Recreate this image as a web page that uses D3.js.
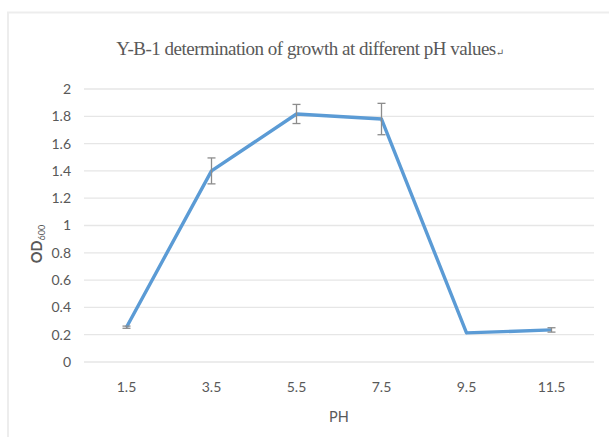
<!DOCTYPE html>
<meta charset="utf-8">
<style>
  body { margin: 0; background: #fff; }
  text { font-family: Lato, "Open Sans", sans-serif; }
</style>
<body></body>
<script src="https://cdn.jsdelivr.net/npm/d3@7"></script>
<script>
  const width = 609
  const height = 437

  // pH categories, mean OD600 and error (half bar)
  const phLabels = ["1.5", "3.5", "5.5", "7.5", "9.5", "11.5"]
  const odValues = [0.255, 1.40, 1.817, 1.78, 0.213, 0.235]
  const odErrors = [0.008, 0.095, 0.07, 0.115, 0.0, 0.016]
  const yTicks = [0, 0.2, 0.4, 0.6, 0.8, 1, 1.2, 1.4, 1.6, 1.8, 2]

  const margin = { left: 84, right: 15, top: 89, bottom: 75 }

  const svg = d3.select("body").append("svg")
    .attr("width", width)
    .attr("height", height)

  // outer chart frame (only top/left visible)
  svg.append("path")
    .attr("d", `M8,${height} V12.5 H${width}`)
    .attr("fill", "none")
    .attr("stroke", "#ededed")
    .attr("stroke-width", 2)

  const x = d3.scaleBand()
    .domain(phLabels)
    .range([margin.left, width - margin.right])

  const y = d3.scaleLinear()
    .domain([0, 2])
    .range([height - margin.bottom, margin.top])

  // gridlines
  svg.append("g")
    .selectAll("line")
    .data(yTicks)
    .join("line")
    .attr("x1", margin.left)
    .attr("x2", width - margin.right)
    .attr("y1", d => y(d))
    .attr("y2", d => y(d))
    .attr("stroke", "#e6e6e6")
    .attr("stroke-width", 1.3)

  // y tick labels
  svg.append("g")
    .selectAll("text")
    .data(yTicks)
    .join("text")
    .attr("x", 71)
    .attr("y", d => y(d))
    .attr("dy", "0.35em")
    .attr("text-anchor", "end")
    .attr("fill", "#595959")
    .attr("font-size", 14)
    .text(d => d3.format("")(+d.toFixed(1)))

  // x tick labels
  svg.append("g")
    .selectAll("text")
    .data(phLabels)
    .join("text")
    .attr("x", d => x(d) + x.bandwidth() / 2)
    .attr("y", 387)
    .attr("dy", "0.35em")
    .attr("text-anchor", "middle")
    .attr("fill", "#595959")
    .attr("font-size", 14)
    .text(d => d)

  // axis titles
  svg.append("text")
    .attr("x", (margin.left + width - margin.right) / 2)
    .attr("y", 417)
    .attr("dy", "0.35em")
    .attr("text-anchor", "middle")
    .attr("fill", "#595959")
    .attr("font-size", 14.5)
    .text("PH")

  const yTitle = svg.append("text")
    .attr("transform", "translate(37,244) rotate(-90)")
    .attr("dy", "0.35em")
    .attr("text-anchor", "middle")
    .attr("fill", "#595959")
    .attr("font-size", 14.5)
    .attr("font-weight", "bold")
  yTitle.append("tspan").text("OD")
  yTitle.append("tspan")
    .attr("font-size", 9)
    .attr("font-weight", "normal")
    .attr("dy", "0.3em")
    .text("600")

  // chart title
  svg.append("text")
    .attr("x", 310)
    .attr("y", 48)
    .attr("dy", "0.35em")
    .attr("text-anchor", "middle")
    .attr("fill", "#595959")
    .attr("font-size", 19)
    .style("font-family", "'Liberation Serif', 'DejaVu Serif', serif")
    .style("letter-spacing", "-0.5px")
    .text("Y-B-1 determination of growth at different pH values")
    .append("tspan")
    .attr("font-size", 10)
    .attr("dy", "0.1em")
    .text("↵")

  const points = phLabels.map((p, i) => ({ p, v: odValues[i], e: odErrors[i] }))
  const cx = d => x(d.p) + x.bandwidth() / 2

  // line
  svg.append("path")
    .datum(points)
    .attr("fill", "none")
    .attr("stroke", "#5b9bd5")
    .attr("stroke-width", 3.4)
    .attr("stroke-linejoin", "round")
    .attr("d", d3.line().x(cx).y(d => y(d.v)))

  // error bars
  const err = svg.append("g")
    .attr("stroke", "#8c8c8c")
    .attr("stroke-width", 1.3)
    .selectAll("g")
    .data(points.filter(d => d.e > 0))
    .join("g")
  err.append("line")
    .attr("x1", cx).attr("x2", cx)
    .attr("y1", d => y(d.v + d.e)).attr("y2", d => y(d.v - d.e))
  err.append("line")
    .attr("x1", d => cx(d) - 4).attr("x2", d => cx(d) + 4)
    .attr("y1", d => y(d.v + d.e)).attr("y2", d => y(d.v + d.e))
  err.append("line")
    .attr("x1", d => cx(d) - 4).attr("x2", d => cx(d) + 4)
    .attr("y1", d => y(d.v - d.e)).attr("y2", d => y(d.v - d.e))
</script>
